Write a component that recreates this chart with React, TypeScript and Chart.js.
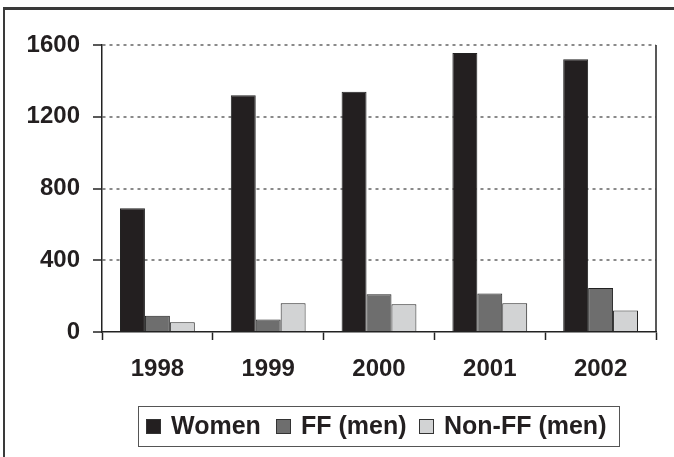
import React, { useEffect, useRef } from "react";
import { Chart, registerables } from "chart.js";

Chart.register(...registerables);

const years = ["1998", "1999", "2000", "2001", "2002"];
const women = [690, 1320, 1340, 1555, 1520];
const ffMen = [90, 70, 210, 215, 245];
const nonFfMen = [55, 160, 155, 160, 120];
const yTicks = [0, 400, 800, 1200, 1600];

const seriesLabels = ["Women", "FF (men)", "Non-FF (men)"];
const seriesColors = ["#231f20", "#6e6e6e", "#d2d3d4"];

const FONT = "'Liberation Sans', Arial, Helvetica, sans-serif";

const framePlugin = {
  id: "frame",
  afterDraw(chart: any) {
    const { ctx, chartArea } = chart;
    ctx.save();
    // outer frame
    ctx.strokeStyle = "#3a3a3a";
    ctx.lineWidth = 3;
    ctx.beginPath();
    ctx.moveTo(3, 8.5);
    ctx.lineTo(674, 8.5);
    ctx.stroke();
    ctx.lineWidth = 2;
    ctx.beginPath();
    ctx.moveTo(4, 8);
    ctx.lineTo(4, 457);
    ctx.stroke();
    // right border of plot
    ctx.strokeStyle = "#222";
    ctx.lineWidth = 1.5;
    ctx.beginPath();
    ctx.moveTo(chartArea.right, chartArea.top);
    ctx.lineTo(chartArea.right, chartArea.bottom);
    ctx.stroke();
    // legend
    const bx = 138.5, by = 406.5, bw = 481, bh = 40;
    ctx.strokeStyle = "#555";
    ctx.lineWidth = 1;
    ctx.strokeRect(bx, by, bw, bh);
    const xs = [146, 276, 419];
    ctx.font = `bold 25px ${FONT}`;
    ctx.textBaseline = "middle";
    ctx.textAlign = "left";
    chart.data.datasets.forEach((ds: any, i: number) => {
      const x = xs[i];
      ctx.fillStyle = ds.backgroundColor;
      ctx.fillRect(x, 419, 15, 15);
      ctx.strokeStyle = "#333";
      ctx.lineWidth = 1;
      ctx.strokeRect(x + 0.5, 419.5, 14, 14);
      ctx.fillStyle = "#231f20";
      ctx.fillText(ds.label, x + 25, 427.5);
    });
    ctx.restore();
  },
};

export default function App() {
  const ref = useRef<HTMLCanvasElement>(null);
  useEffect(() => {
    const data = [women, ffMen, nonFfMen];
    const chart = new Chart(ref.current!, {
      type: "bar",
      data: {
        labels: years,
        datasets: data.map((d, i) => ({
          label: seriesLabels[i],
          data: d,
          backgroundColor: seriesColors[i],
          borderColor: "#222",
          borderWidth: 1,
          categoryPercentage: 0.675,
          barPercentage: 1,
        })),
      },
      options: {
        responsive: false,
        animation: false,
        layout: { padding: { left: 0, right: 18, top: 45, bottom: 0 } },
        plugins: { legend: { display: false }, tooltip: { enabled: false } },
        scales: {
          x: {
            afterFit: (s: any) => { s.height = 125; },
            grid: {
              offset: true,
              drawOnChartArea: false,
              drawTicks: true,
              tickLength: 8,
              tickColor: "#222",
              tickWidth: 1.5,
            },
            border: { color: "#222", width: 1.5 },
            ticks: {
              color: "#231f20",
              padding: 15,
              font: { family: FONT, size: 24, weight: "bold" },
            },
          },
          y: {
            min: 0,
            max: 1600,
            afterFit: (s: any) => { s.width = 102; },
            afterBuildTicks: (s: any) => { s.ticks = yTicks.map((v) => ({ value: v })); },
            grid: {
              color: (c: any) => (c.tick && c.tick.value === 0 ? "rgba(0,0,0,0)" : "#8a8a8a"),
              lineWidth: 2,
              tickLength: 9,
              tickColor: "#222",
              tickWidth: 1.5,
              tickBorderDash: [],
            },
            border: { color: "#222", width: 1.5, dash: [3, 4] },
            ticks: {
              color: "#231f20",
              padding: 13,
              font: { family: FONT, size: 24, weight: "bold" },
              callback: (v: any) => String(v),
            },
          },
        },
      },
      plugins: [framePlugin],
    });
    return () => chart.destroy();
  }, []);
  return (
    <div style={{ position: "absolute", left: 0, top: 0, width: 674, height: 457, background: "#fff" }}>
      <canvas ref={ref} width={674} height={457} style={{ display: "block" }} />
    </div>
  );
}
